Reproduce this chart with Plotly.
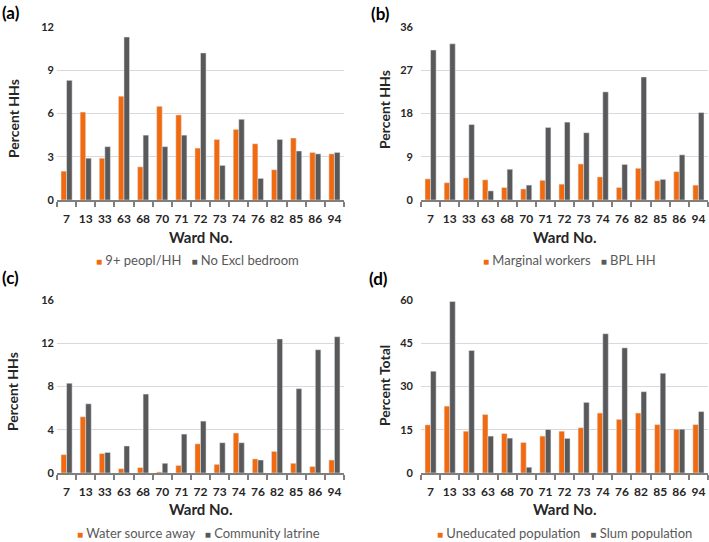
import plotly.graph_objects as go
from plotly.subplots import make_subplots

wards = ["7", "13", "33", "63", "68", "70", "71", "72", "73", "74", "76", "82", "85", "86", "94"]

people_9plus = [2.0, 6.1, 2.9, 7.2, 2.3, 6.5, 5.9, 3.6, 4.2, 4.9, 3.9, 2.1, 4.3, 3.3, 3.2]
no_excl_bedroom = [8.3, 2.9, 3.7, 11.3, 4.5, 3.7, 4.5, 10.2, 2.4, 5.6, 1.5, 4.2, 3.4, 3.2, 3.3]

marginal_workers = [4.4, 3.6, 4.6, 4.2, 2.6, 2.3, 4.1, 3.3, 7.5, 4.8, 2.6, 6.6, 4.0, 5.9, 3.1]
bpl_hh = [31.2, 32.5, 15.7, 1.9, 6.4, 3.1, 15.1, 16.2, 14.0, 22.5, 7.4, 25.6, 4.3, 9.4, 18.2]

water_source_away = [1.7, 5.2, 1.8, 0.4, 0.5, 0.1, 0.7, 2.7, 0.8, 3.7, 1.3, 2.0, 0.9, 0.6, 1.2]
community_latrine = [8.3, 6.4, 1.9, 2.5, 7.3, 0.9, 3.6, 4.8, 2.8, 2.8, 1.2, 12.4, 7.8, 11.4, 12.6]

uneducated_pop = [16.7, 23.2, 14.5, 20.3, 13.7, 10.6, 12.8, 14.5, 15.7, 20.8, 18.6, 20.8, 16.8, 15.2, 16.8]
slum_pop = [35.3, 59.5, 42.5, 12.8, 12.1, 2.0, 15.1, 12.0, 24.5, 48.3, 43.4, 28.2, 34.6, 15.2, 21.3]

panel_labels = ["(a)", "(b)", "(c)", "(d)"]
series1_names = ["9+ peopl/HH", "Marginal workers", "Water source away", "Uneducated population"]
series2_names = ["No Excl bedroom", "BPL HH", "Community latrine", "Slum population"]
series1_values = [people_9plus, marginal_workers, water_source_away, uneducated_pop]
series2_values = [no_excl_bedroom, bpl_hh, community_latrine, slum_pop]
y_titles = ["Percent HHs", "Percent HHs", "Percent HHs", "Percent Total"]
y_tickvals = [[0, 3, 6, 9, 12], [0, 9, 18, 27, 36], [0, 4, 8, 12, 16], [0, 15, 30, 45, 60]]
y_max = [12, 36, 16, 60]
x_title = "Ward No."

ORANGE = "#F26A10"
GRAY = "#595959"
TXT = "#262626"
FONT = "Lato, 'Open Sans', sans-serif"

fig = make_subplots(rows=2, cols=2)

W, H = 709, 542
xdomains = [[57, 344], [421, 708]]
ydomains = [[27, 200], [300, 473]]
ytick_standoff = [2, 7]
label_xy = [(0, 12), (369, 14), (0, 277), (367, 278)]
ytitle_xy = [(13, 119), (384, 110), (12, 392), (384, 386)]
xtitle_y = [237, 509]
legend_xy = [(197, 260), (569, 260), (198, 533), (564, 533)]


def px_x(v):
    return v / W


def px_y(v):
    return 1 - v / H


for i in range(4):
    r, c = i // 2 + 1, i % 2 + 1
    fig.add_trace(go.Bar(x=wards, y=series1_values[i], name=series1_names[i], marker_color=ORANGE,
                         showlegend=False), row=r, col=c)
    fig.add_trace(go.Bar(x=wards, y=series2_values[i], name=series2_names[i], marker_color=GRAY,
                         showlegend=False), row=r, col=c)
    xd = xdomains[c - 1]
    yd = ydomains[r - 1]
    fig.update_xaxes(
        row=r, col=c, domain=[px_x(xd[0]), px_x(xd[1])], type="category", tickangle=0,
        showline=True, linecolor="#7F7F7F", linewidth=1.5,
        ticks="outside", tickson="boundaries", ticklen=5, tickcolor="#7F7F7F", tickwidth=1.5,
        tickfont=dict(family=FONT, size=12, color=TXT, weight="bold"), ticklabelstandoff=7,
        showgrid=False, automargin=False,
    )
    fig.update_yaxes(
        row=r, col=c, domain=[px_y(yd[1]), px_y(yd[0])], range=[0, y_max[i]], tickvals=y_tickvals[i],
        showgrid=True, gridcolor="#D9D9D9", gridwidth=1, zeroline=False, showline=False,
        tickfont=dict(family=FONT, size=11, color=TXT, weight="bold"),
        ticklabelstandoff=ytick_standoff[c - 1],
        automargin=False,
    )
    # panel label
    lx, ly = label_xy[i]
    fig.add_annotation(x=px_x(lx), y=px_y(ly), xref="paper", yref="paper", xanchor="left", yanchor="middle",
                       text=panel_labels[i], showarrow=False,
                       font=dict(family=FONT, size=17, color="#000000", weight="bold"))
    # y-axis title
    tx, ty = ytitle_xy[i]
    fig.add_annotation(x=px_x(tx), y=px_y(ty), xref="paper", yref="paper", xanchor="center", yanchor="middle",
                       text=y_titles[i], textangle=-90, showarrow=False,
                       font=dict(family=FONT, size=14, color=TXT, weight="bold"))
    # x-axis title
    fig.add_annotation(x=px_x((xd[0] + xd[1]) / 2), y=px_y(xtitle_y[r - 1]), xref="paper", yref="paper",
                       xanchor="center", yanchor="middle", text=x_title, showarrow=False,
                       font=dict(family=FONT, size=15, color=TXT, weight="bold"))
    # legend
    gx, gy = legend_xy[i]
    legend_text = (f"<span style='color:{ORANGE};font-size:10px'>■</span> {series1_names[i]}"
                   f"&nbsp;&nbsp;&nbsp;<span style='color:{GRAY};font-size:10px'>■</span> {series2_names[i]}")
    fig.add_annotation(x=px_x(gx), y=px_y(gy), xref="paper", yref="paper", xanchor="center", yanchor="middle",
                       text=legend_text, showarrow=False,
                       font=dict(family=FONT, size=13, color="#595959"))

fig.update_layout(
    width=W, height=H, margin=dict(l=0, r=0, t=0, b=0),
    paper_bgcolor="white", plot_bgcolor="white",
    barmode="group", bargap=0.42, bargroupgap=0.0,
    font=dict(family=FONT),
    showlegend=False,
)

fig.write_html("out.html", config={"displayModeBar": False},
               post_script="document.body.style.margin='0px';")
